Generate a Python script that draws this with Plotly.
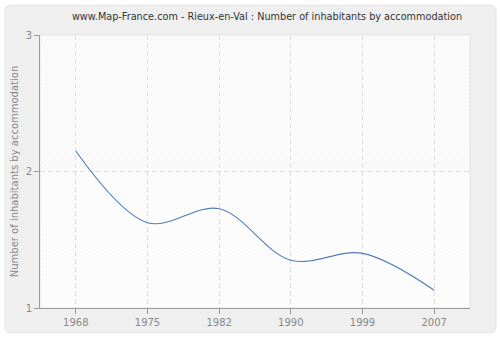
import plotly.graph_objects as go

years = ["1968", "1975", "1982", "1990", "1999", "2007"]
values = [2.15, 1.625, 1.727, 1.35, 1.40, 1.13]
y_ticks = [1, 2, 3]

W, H = 500, 340
ML, MR, MT, MB = 40, 30, 35, 30
PW, PH = W - ML - MR, H - MT - MB

fig = go.Figure()
fig.add_trace(go.Scatter(
    x=years, y=values, mode="lines",
    line=dict(color="#4f7db8", width=1.1, shape="spline", smoothing=1.0),
    hoverinfo="skip", showlegend=False,
))

# outer rounded panel (pixel -> paper conversion)
def px(xp):
    return (xp - ML) / PW
def py(yp):
    return (H - MB - yp) / PH

x0, x1, y0, y1 = px(5), px(496), py(335), py(5)
rx, ry = 6 / PW, 6 / PH
path = (f"M {x0+rx},{y0} L {x1-rx},{y0} Q {x1},{y0} {x1},{y0+ry} "
        f"L {x1},{y1-ry} Q {x1},{y1} {x1-rx},{y1} L {x0+rx},{y1} "
        f"Q {x0},{y1} {x0},{y1-ry} L {x0},{y0+ry} Q {x0},{y0} {x0+rx},{y0} Z")
fig.add_shape(type="path", path=path, xref="paper", yref="paper",
              fillcolor="#efefef", line=dict(color="#e4e4e4", width=1), layer="below")
fig.add_shape(type="rect", x0=0, x1=1, y0=0, y1=1, xref="paper", yref="paper",
              fillcolor="#ffffff", line=dict(color="#e2e2e2", width=1), layer="below")

# diagonal hatch background
def hatch(ylo, yhi, step=4):
    segs = []
    c = -PH
    while c < PW:
        xa = max(0, ylo + c)
        xb = min(PW, yhi + c)
        if xb > xa:
            ya, yb = xa - c, xb - c
            segs.append(f"M {xa/PW},{ya/PH} L {xb/PW},{yb/PH}")
        c += step
    return " ".join(segs)

fig.add_shape(type="path", path=hatch(PH / 2, PH), xref="paper", yref="paper",
              line=dict(color="#efefef", width=1), layer="below")
fig.add_shape(type="path", path=hatch(0, PH / 2), xref="paper", yref="paper",
              line=dict(color="#f5f5f5", width=1), layer="below")

fig.update_layout(
    width=W, height=H,
    margin=dict(l=ML, r=MR, t=MT, b=MB),
    paper_bgcolor="#ffffff",
    plot_bgcolor="#ffffff",
    font=dict(family="DejaVu Sans", size=10, color="#888888"),
    title=dict(text="www.Map-France.com - Rieux-en-Val : Number of inhabitants by accommodation",
               x=0.534, xanchor="center", y=0.95, yanchor="middle",
               font=dict(size=9.7, color="#333333")),
    xaxis=dict(
        type="category", range=[-0.5, 5.5],
        showline=True, linecolor="#999999", linewidth=1,
        ticks="outside", ticklen=5, tickcolor="#999999",
        showgrid=True, gridcolor="#e0e0e0", griddash="5px,3px", gridwidth=1,
        tickfont=dict(size=10, color="#888888"), zeroline=False,
    ),
    yaxis=dict(
        range=[1, 3], tickvals=y_ticks, ticktext=[str(v) for v in y_ticks],
        showline=True, linecolor="#999999", linewidth=1,
        ticks="outside", ticklen=5, tickcolor="#999999",
        showgrid=True, gridcolor="#e0e0e0", griddash="5px,3px", gridwidth=1,
        tickfont=dict(size=10, color="#888888"), zeroline=False,
        title=dict(text="Number of inhabitants by accommodation",
                   font=dict(size=10, color="#888888"), standoff=5),
    ),
)

fig.write_html("out.html")
